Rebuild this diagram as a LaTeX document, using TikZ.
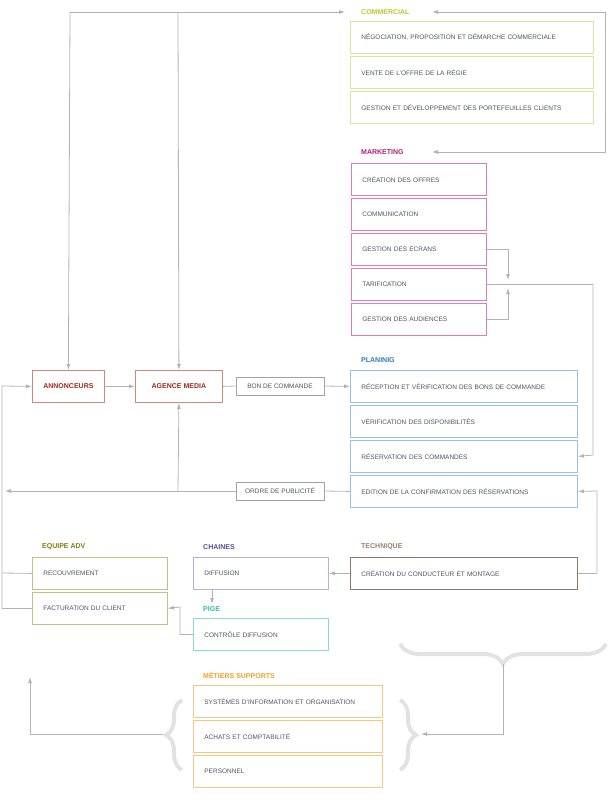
\documentclass[tikz,border=0pt]{standalone}
\usepackage{fontspec}
\setmainfont{Liberation Sans}
\usetikzlibrary{arrows.meta, positioning, calc}
\usetikzlibrary{decorations.pathreplacing}

\definecolor{txt}{HTML}{505464}
\definecolor{lin}{HTML}{B4B4B4}
\definecolor{comB}{HTML}{DCE39A}\definecolor{comH}{HTML}{B8C830}
\definecolor{mktB}{HTML}{E07CB8}\definecolor{mktH}{HTML}{B01C7C}
\definecolor{plaB}{HTML}{94C4E6}\definecolor{plaH}{HTML}{2A7CB8}
\definecolor{annB}{HTML}{D08878}\definecolor{annH}{HTML}{9A2A1A}
\definecolor{advB}{HTML}{C8C080}\definecolor{advH}{HTML}{807A10}
\definecolor{chaB}{HTML}{B8B0D8}\definecolor{chaH}{HTML}{5A4A9A}
\definecolor{pigB}{HTML}{88DCD8}\definecolor{pigH}{HTML}{30B8B0}
\definecolor{tecB}{HTML}{8A7A6A}\definecolor{tecH}{HTML}{9A8070}
\definecolor{supB}{HTML}{F8C880}\definecolor{supH}{HTML}{F0A020}
\definecolor{brc}{HTML}{E2E2E2}

\tikzset{
    box/.style={draw, line width=0.8pt, anchor=north west, minimum height=32pt,
        inner xsep=11pt, align=left, text=txt, font=\fontsize{6.5}{7}\selectfont},
    tag/.style={draw=lin!90!black, line width=0.8pt, minimum width=88pt, minimum height=18pt,
        inner sep=1pt, text=txt, font=\fontsize{6.5}{7}\selectfont},
    head/.style={anchor=west, inner sep=0pt, font=\bfseries\fontsize{7}{8}\selectfont},
    link/.style={draw=lin, line width=0.8pt},
    arr/.style={link, -{Latex[length=6pt,width=4pt]}},
    curly/.style={draw=brc, line width=4pt, decorate}
}

\begin{document}
\begin{tikzpicture}[x=1pt, y=-1pt]

    % Determines the boundries
    \path [use as bounding box] (0,0) rectangle (609,805);

    % Commercial
    \node[head, text=comH] (comT) at (361,12) {COMMERCIAL};
    \foreach \n/\y/\t in {1/21/{NÉGOCIATION, PROPOSITION ET DÉMARCHE COMMERCIALE},
                          2/56/VENTE DE L’OFFRE DE LA RÉGIE,
                          3/91/GESTION ET DÉVELOPPEMENT DES PORTEFEUILLES CLIENTS}{
        \node[box, draw=comB, minimum width=243pt, text width=221pt] (com\n) at (350,\y) {\t};
    }

    % Marketing
    \node[head, text=mktH] (mktT) at (361,152) {MARKETING};
    \foreach \n/\y/\t in {1/163/CRÉATION DES OFFRES, 2/198/COMMUNICATION,
                          3/233/GESTION DES ECRANS, 4/268/TARIFICATION,
                          5/303/GESTION DES AUDIENCES}{
        \node[box, draw=mktB, minimum width=135pt, text width=113pt] (mkt\n) at (351,\y) {\t};
    }

    % Planinig
    \node[head, text=plaH] (plaT) at (361,360) {PLANINIG};
    \foreach \n/\y/\t in {1/370/RÉCEPTION ET VÉRIFICATION DES BONS DE COMMANDE,
                          2/405/VÉRIFICATION DES DISPONIBILITÉS,
                          3/440/RÉSERVATION DES COMMANDES,
                          4/475/EDITION DE LA CONFIRMATION DES RÉSERVATIONS}{
        \node[box, draw=plaB, minimum width=227pt, text width=205pt] (pla\n) at (350,\y) {\t};
    }

    % Annonceurs / agence
    \node[box, draw=annB, text=annH, font=\bfseries\fontsize{7}{8}\selectfont,
          minimum width=72pt, inner xsep=0pt, align=center] (ann) at (32,370) {ANNONCEURS};
    \node[box, draw=annB, text=annH, font=\bfseries\fontsize{7}{8}\selectfont,
          minimum width=87pt, inner xsep=0pt, align=center] (age) at (135,370) {AGENCE MEDIA};
    \node[tag] (bon) at (280,386) {BON DE COMMANDE};
    \node[tag] (ord) at (280,491) {ORDRE DE PUBLICITÉ};

    % Equipe ADV, chaines, pige, technique
    \node[head, text=advH] (advT) at (42,547) {EQUIPE ADV};
    \node[box, draw=advB, minimum width=135pt, text width=113pt] (adv1) at (32,557) {RECOUVREMENT};
    \node[box, draw=advB, minimum width=135pt, text width=113pt] (adv2) at (32,592) {FACTURATION DU CLIENT};
    \node[head, text=chaH] (chaT) at (203,547) {CHAINES};
    \node[box, draw=chaB, minimum width=135pt, text width=113pt] (cha) at (193,557) {DIFFUSION};
    \node[head, text=pigH] (pigT) at (203,609) {PIGE};
    \node[box, draw=pigB, minimum width=135pt, text width=113pt] (pig) at (193,618) {CONTRÔLE DIFFUSION};
    \node[head, text=tecH] (tecT) at (361,547) {TECHNIQUE};
    \node[box, draw=tecB, minimum width=227pt, text width=205pt] (tec) at (350,557) {CRÉATION DU CONDUCTEUR ET MONTAGE};

    % Metiers supports
    \node[head, text=supH] (supT) at (203,675) {MÉTIERS SUPPORTS};
    \foreach \n/\y/\t in {1/685/SYSTÈMES D’INFORMATION ET ORGANISATION,
                          2/720/ACHATS ET COMPTABILITÉ, 3/755/PERSONNEL}{
        \node[box, draw=supB, minimum width=189pt, text width=167pt] (sup\n) at (193,\y) {\t};
    }

    % Braces
    \draw[curly, decoration={brace, amplitude=20pt}] (606,644) -- (400,644);
    \draw[curly, decoration={brace, amplitude=16pt}] (182,770) -- (182,700);
    \draw[curly, decoration={brace, amplitude=16pt}] (400,700) -- (400,770);
    \coordinate (bigTip) at (503,664);
    \coordinate (lTip) at (163,734);
    \coordinate (rTip) at (421,734);
    \coordinate (chaOut) at (212,589);

    % Top connectors
    \draw[arr] (70,12) -- (ann.north);
    \draw[arr] (178,12) -- (age.north);
    \draw[arr] (70,12) -- (345,12);
    \draw[arr] (605,12) -- (432,12);
    \draw[arr] (605,12) |- (432,152);

    % Marketing connectors
    \draw[arr] (mkt3.east) -| (508,280);
    \draw[arr] (mkt5.east) -| (508,288);
    \draw[arr] (mkt4.east) -| (593,455) -- (pla3.east);

    % Middle connectors
    \draw[arr] (ann.east) -- (age.west);
    \draw[link] (age.east) -- (bon.west);
    \draw[arr] (bon.east) -- (pla1.west);
    \draw[link] (pla4.west) -- (ord.east);
    \draw[arr] (ord.west) -- (5,491);
    \draw[arr] (178,491) -- (age.south);
    \draw[arr] (adv2.west) -| (2,386) -- (ann.west);
    \draw[link] (adv1.west) -- (2,573);
    \draw[arr] (tec.east) -| (597,491) -- (pla4.east);
    \draw[arr] (tec.west) -- (cha.east);
    \draw[arr] (chaOut) -- (212,604);
    \draw[arr] (pig.west) -| (180,607) -- (adv2.east);

    % Bottom connectors
    \draw[arr] (bigTip) |- (rTip);
    \draw[arr] (lTip) -| (30,677);

\end{tikzpicture}
\end{document}
